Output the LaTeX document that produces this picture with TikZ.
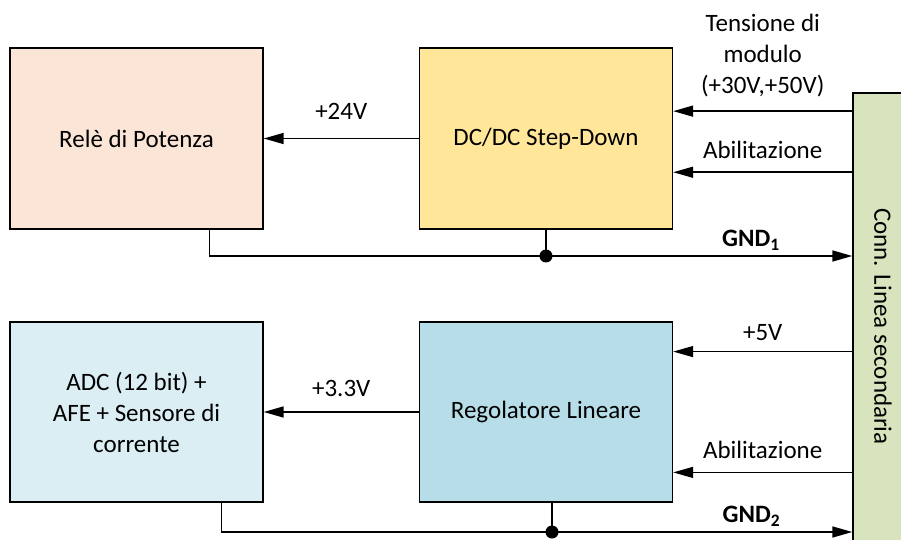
\documentclass[tikz,border=0pt]{standalone}
\usepackage{fontspec}
\setmainfont{Carlito}
\usepackage{xcolor}
\usepackage{tikz}
\usetikzlibrary{arrows.meta, positioning, calc}

\definecolor{releFill}{HTML}{FBE5D6}
\definecolor{dcdcFill}{HTML}{FFE699}
\definecolor{adcFill}{HTML}{DAEEF3}
\definecolor{regFill}{HTML}{B7DEE8}
\definecolor{connFill}{HTML}{D7E4BD}

\begin{document}
\begin{tikzpicture}[
    x=0.5pt, y=-0.5pt,
    font=\fontsize{12.5}{15.5}\selectfont,
    box/.style={
        rectangle,
        draw,
        line width=0.7pt,
        align=center,
        minimum width=126.5pt,
        minimum height=90.5pt
    },
    arrow/.style={-{Triangle[length=10pt,width=5.5pt]}, line width=0.75pt},
    wire/.style={line width=0.75pt},
    dot/.style={circle, fill, inner sep=0pt, minimum size=6.5pt},
    lbl/.style={align=center}
]

\useasboundingbox (0,0) rectangle (901,540);
\clip (0,0) rectangle (901,540);

% --- riga superiore ---
\node[box, fill=releFill] (rele) at (136.5,138.5) {Relè di Potenza};
\node[box, fill=dcdcFill] (dcdc) at (546,138.5) {DC/DC Step-Down};

% --- riga inferiore ---
\node[box, fill=adcFill, minimum height=90pt] (adc) at (136.5,412)
{ADC (12 bit) +\\AFE + Sensore di\\corrente};
\node[box, fill=regFill, minimum height=90pt] (reg) at (546,412) {Regolatore Lineare};

% --- connettore (tagliato dal bordo destro) ---
\node[box, fill=connFill, minimum width=30pt, minimum height=233.5pt] (conn) at (883,326.5)
{\rotatebox{-90}{Conn. Linea secondaria}};

% punti di ingresso sui blocchi
\coordinate (vin) at ($(dcdc.north east)!0.35!(dcdc.south east)$);
\coordinate (en1) at ($(dcdc.north east)!0.685!(dcdc.south east)$);
\coordinate (v5)  at ($(reg.north east)!0.167!(reg.south east)$);
\coordinate (en2) at ($(reg.north east)!0.833!(reg.south east)$);

% --- alimentazioni ---
\draw[arrow] (dcdc.west) -- (rele.east) node[lbl, midway, above=6pt] {+24V};
\draw[arrow] (reg.west) -- (adc.east) node[lbl, midway, above=4pt] {+3.3V};

% --- dal connettore ---
\draw[arrow] (conn.west |- vin) -- (vin) node[lbl, midway, above=3.5pt] {Tensione di\\modulo\\(+30V,+50V)};
\draw[arrow] (conn.west |- en1) -- (en1) node[lbl, midway, above=3pt] {Abilitazione};
\draw[arrow] (conn.west |- v5) -- (v5) node[lbl, midway, above=2pt] {+5V};
\draw[arrow] (conn.west |- en2) -- (en2) node[lbl, midway, above=3pt] {Abilitazione};

% --- masse ---
\coordinate (g1) at ($(rele.south west)!0.787!(rele.south east)$);
\coordinate (g2) at ($(adc.south west)!0.834!(adc.south east)$);
\node[dot] (j1) at (546,256) {};
\node[dot] (j2) at (552,532) {};

\draw[wire] (dcdc.south) -- (j1.center);
\draw[arrow] (g1) |- (j1.center) -- (conn.west |- j1)
    node[lbl, pos=0.67, above=-1pt] {\textbf{GND\textsubscript{1}}};

\draw[wire] (reg.south -| j2) -- (j2.center);
\draw[arrow] (g2) |- (j2.center) -- (conn.west |- j2)
    node[lbl, pos=0.665, above=-1pt] {\textbf{GND\textsubscript{2}}};

\end{tikzpicture}
\end{document}
